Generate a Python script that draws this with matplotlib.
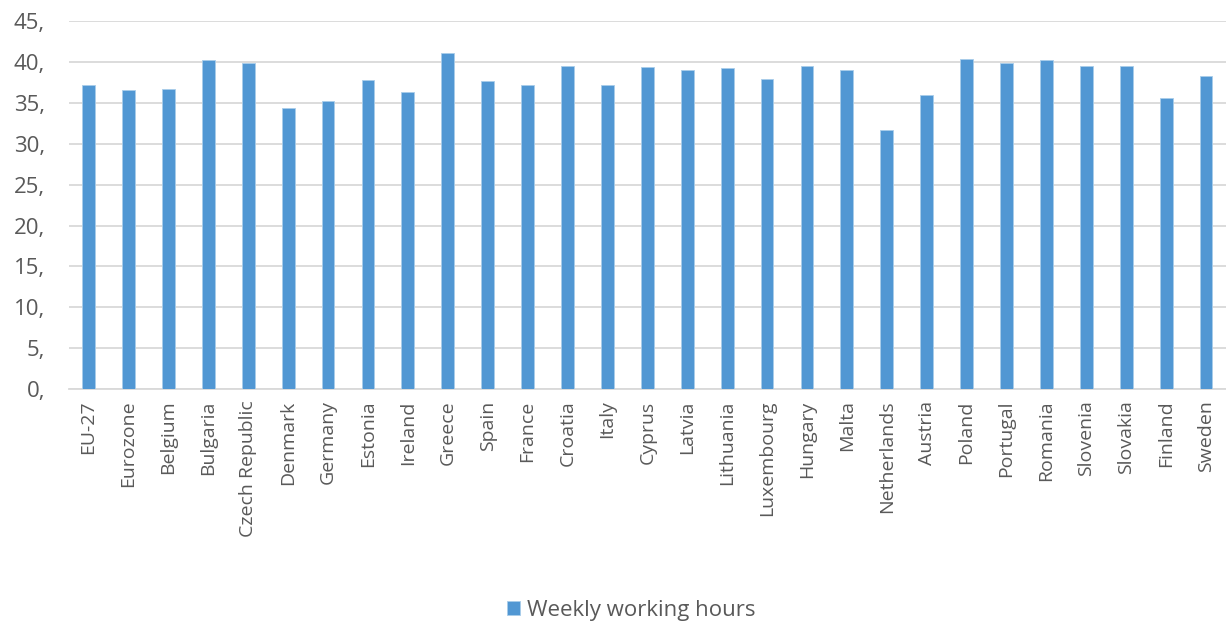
import matplotlib.pyplot as plt
import numpy as np

countries = ['EU-27', 'Eurozone', 'Belgium', 'Bulgaria', 'Czech Republic',
             'Denmark', 'Germany', 'Estonia', 'Ireland', 'Greece', 'Spain',
             'France', 'Croatia', 'Italy', 'Cyprus', 'Latvia', 'Lithuania',
             'Luxembourg', 'Hungary', 'Malta', 'Netherlands', 'Austria',
             'Poland', 'Portugal', 'Romania', 'Slovenia', 'Slovakia',
             'Finland', 'Sweden']
hours = [37.1, 36.6, 36.7, 40.2, 39.8, 34.4, 35.2, 37.8, 36.3, 41.0, 37.6,
         37.1, 39.5, 37.2, 39.4, 39.0, 39.2, 37.9, 39.5, 39.0, 31.7, 35.9,
         40.3, 39.9, 40.2, 39.5, 39.5, 35.6, 38.3]
yticks = [0, 5, 10, 15, 20, 25, 30, 35, 40, 45]

bar_col = '#5197d3'
txt_col = '#595959'
grid_col = '#d9d9d9'

plt.rcParams['font.family'] = ['Open Sans', 'DejaVu Sans']

fig = plt.figure(figsize=(12.26, 6.28), dpi=100)
ax = fig.add_axes([0.056, 0.380, 0.944, 0.587])

x = np.arange(len(countries))
ax.bar(x, hours, width=0.32, color=bar_col, edgecolor='#a9cdea',
       linewidth=0.6, zorder=3, label='Weekly working hours')

ax.set_xlim(-0.5, len(countries) - 0.5)
ax.set_ylim(0, 45)
ax.set_yticks(yticks)
ax.set_yticklabels(['{},'.format(v) for v in yticks])
ax.set_xticks(x)
ax.set_xticklabels(countries, rotation=90)
ax.tick_params(axis='both', length=0, colors=txt_col, labelsize=14)
ax.tick_params(axis='y', pad=17, labelsize=16)
ax.tick_params(axis='x', pad=8)

ax.yaxis.grid(True, color=grid_col, linewidth=1.3, zorder=0)
for s in ('top', 'right', 'left'):
    ax.spines[s].set_visible(False)
ax.spines['bottom'].set_color(grid_col)
ax.spines['bottom'].set_linewidth(1.3)

fig.legend(loc='center', bbox_to_anchor=(0.515, 0.028), frameon=False,
           fontsize=16, labelcolor=txt_col, handlelength=0.6,
           handleheight=0.6, handletextpad=0.3)

fig.savefig('out.png', dpi=100)
